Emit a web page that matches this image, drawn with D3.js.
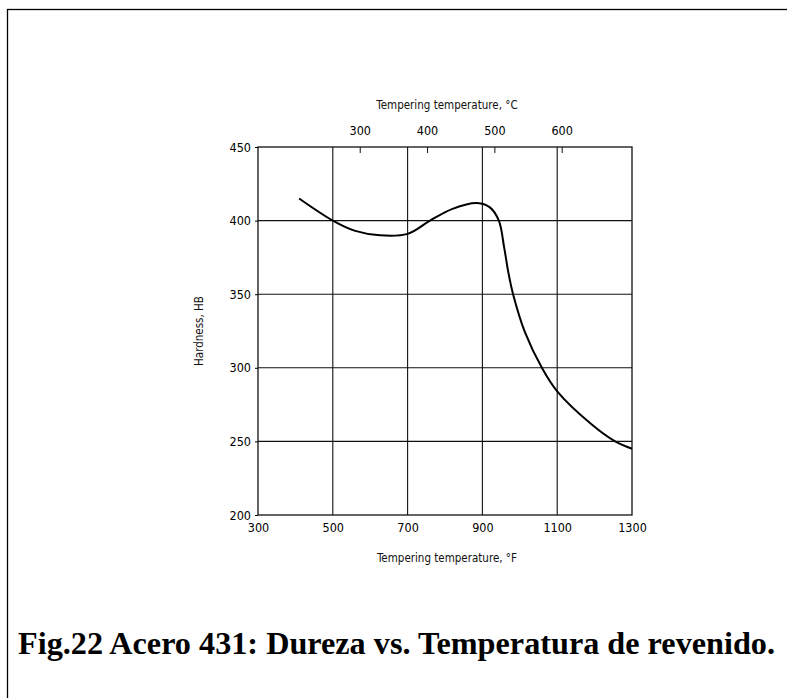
<!DOCTYPE html>
<html>
<head>
<meta charset="utf-8">
<script src="https://cdn.jsdelivr.net/npm/d3@7"></script>
<style>
  body { margin: 0; background: #fff; }
  svg { display: block; }
  .tick text { font-family: "DejaVu Sans Condensed", "DejaVu Sans", sans-serif; font-size: 12.5px; fill: #000; }
  .lbl { font-family: "DejaVu Sans Condensed", "DejaVu Sans", sans-serif; font-size: 11.5px; fill: #111; }
</style>
</head>
<body>
<svg id="chart"></svg>
<script>
const width = 787, height = 698

// tempering temperature (°F) and hardness (HB)
const tempF = [410, 500, 560, 626, 700, 760, 820, 886, 920, 944, 958, 970, 982, 1014, 1059, 1100, 1190, 1255, 1300]
const hardness = [415, 400, 393, 390, 391, 400, 408, 412, 409, 400, 382, 364, 350, 324, 300, 284, 262, 250, 245]

const fTicks = [300, 500, 700, 900, 1100, 1300]
const cTicks = [300, 400, 500, 600]
const hTicks = [200, 250, 300, 350, 400, 450]

const caption = "Fig.22 Acero 431: Dureza vs. Temperatura de revenido."

const svg = d3.select("#chart").attr("width", width).attr("height", height)

const x = d3.scaleLinear().domain([300, 1300]).range([258, 632])
const y = d3.scaleLinear().domain([200, 450]).range([515, 147])
const c2f = (c) => c * 9 / 5 + 32

// page frame
svg.append("rect")
  .attr("x", 7.5).attr("y", 9.5)
  .attr("width", 820).attr("height", 720)
  .attr("fill", "none").attr("stroke", "#000").attr("stroke-width", 1.3)

// grid
const grid = svg.append("g").attr("stroke", "#111").attr("stroke-width", 1.1)
grid.selectAll(".vg").data(fTicks.slice(1, -1)).enter().append("line")
  .attr("x1", d => x(d)).attr("x2", d => x(d))
  .attr("y1", y(450)).attr("y2", y(200))
grid.selectAll(".hg").data(hTicks.slice(1, -1)).enter().append("line")
  .attr("x1", x(300)).attr("x2", x(1300))
  .attr("y1", d => y(d)).attr("y2", d => y(d))

// frame of the plot
svg.append("rect")
  .attr("x", x(300)).attr("y", y(450))
  .attr("width", x(1300) - x(300)).attr("height", y(200) - y(450))
  .attr("fill", "none").attr("stroke", "#111").attr("stroke-width", 1.3)

// axes
const bottomAxis = svg.append("g").attr("transform", `translate(0,${y(200)})`)
  .call(d3.axisBottom(x).tickValues(fTicks).tickFormat(d3.format("d")).tickSize(0).tickPadding(8))
bottomAxis.select(".domain").remove()

const leftAxis = svg.append("g").attr("transform", `translate(${x(300)},0)`)
  .call(d3.axisLeft(y).tickValues(hTicks).tickSize(3).tickPadding(4))
leftAxis.select(".domain").remove()

const topAxis = svg.append("g").attr("transform", `translate(0,${y(450)})`)
  .call(d3.axisTop(x).tickValues(cTicks.map(c2f)).tickFormat((d, i) => cTicks[i]).tickSize(-6).tickPadding(12))
topAxis.select(".domain").remove()
topAxis.selectAll(".tick line").attr("stroke", "#111")

// titles
svg.append("text").attr("class", "lbl")
  .attr("x", 447).attr("y", 109).attr("text-anchor", "middle")
  .text("Tempering temperature, °C")
svg.append("text").attr("class", "lbl")
  .attr("x", 447).attr("y", 562).attr("text-anchor", "middle")
  .text("Tempering temperature, °F")
svg.append("text").attr("class", "lbl")
  .attr("transform", `translate(203,${(y(450) + y(200)) / 2}) rotate(-90)`)
  .attr("text-anchor", "middle")
  .text("Hardness, HB")

// curve
const line = d3.line()
  .x(d => x(d[0])).y(d => y(d[1]))
  .curve(d3.curveCatmullRom.alpha(0.5))
svg.append("path")
  .datum(tempF.map((t, i) => [t, hardness[i]]))
  .attr("d", line)
  .attr("fill", "none").attr("stroke", "#000").attr("stroke-width", 2)

// caption
svg.append("text")
  .attr("x", 18).attr("y", 654)
  .attr("textLength", 757).attr("lengthAdjust", "spacingAndGlyphs")
  .style("font-family", "'Liberation Serif', 'Times New Roman', serif")
  .style("font-weight", "bold").style("font-size", "31px")
  .text(caption)
</script>
</body>
</html>
